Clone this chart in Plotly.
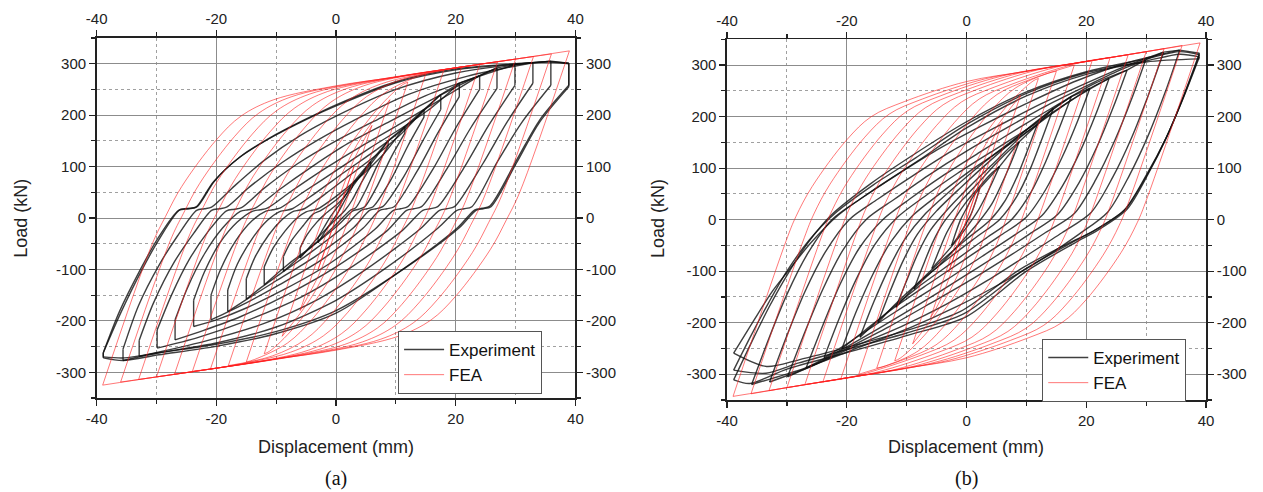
import plotly.graph_objects as go

# ---------------- tick labels ----------------
X_TICKS = [-40, -20, 0, 20, 40]
X_TICK_TEXT = ["-40", "-20", "0", "20", "40"]
Y_TICKS = [-300, -200, -100, 0, 100, 200, 300]
Y_TICK_TEXT = ["-300", "-200", "-100", "0", "100", "200", "300"]

# ---------------- FEA, panel (a): loading (up) and unloading (down) branches per cycle ----------------
FEA_A_UP_X = [
    [-3, 3],
    [-6, 2.3, 4.5, 6],
    [-9, -0.7, 1.5, 4.2, 9],
    [-12, -3.7, -1.5, 1.2, 7, 11.1, 12],
    [-15, -6.7, -4.5, -1.8, 4, 8.1, 13.6, 15],
    [-18, -9.7, -7.5, -4.8, 1, 5.1, 10.6, 18],
    [-21, -12.7, -10.5, -7.8, -2, 2.1, 7.6, 18, 21],
    [-24, -15.7, -13.5, -10.8, -5, -0.9, 4.6, 15, 24],
    [-27, -18.7, -16.5, -13.8, -8, -3.9, 1.6, 12, 20, 27],
    [-30, -21.7, -19.5, -16.8, -11, -6.9, -1.4, 9, 20, 30],
    [-33, -24.7, -22.5, -19.8, -14, -9.9, -4.4, 6, 20, 30, 33],
    [-36, -27.7, -25.5, -22.8, -17, -12.9, -7.4, 3, 10, 20, 30, 36],
    [-39, -30.7, -28.5, -25.8, -20, -15.9, -10.4, 0, 10, 20, 30, 39],
]
FEA_A_UP_Y = [
    [-100, 100],
    [-180, 95, 148, 180],
    [-230, 45, 98, 156, 230],
    [-264, 11, 64, 122, 213, 259, 264],
    [-280, -5, 48, 106, 197, 243, 275, 280],
    [-287, -12, 41, 99, 190, 236, 268, 287],
    [-294, -19, 34, 92, 183, 229, 261, 288, 294],
    [-298, -23, 30, 88, 179, 225, 257, 283, 298],
    [-304, -29, 24, 82, 173, 219, 251, 278, 292, 304],
    [-309, -34, 19, 77, 168, 214, 246, 272, 292, 309],
    [-314, -39, 14, 72, 163, 209, 241, 267, 292, 309, 314],
    [-319, -44, 9, 67, 158, 204, 236, 262, 274, 292, 309, 319],
    [-325, -50, 3, 61, 152, 198, 230, 257, 274, 292, 309, 325],
]
FEA_A_DN_X = [
    [3, -3],
    [6, -2.3, -4.5, -6],
    [9, 0.7, -1.5, -4.2, -9],
    [12, 3.7, 1.5, -1.2, -7, -11.1, -12],
    [15, 6.7, 4.5, 1.8, -4, -8.1, -13.6, -15],
    [18, 9.7, 7.5, 4.8, -1, -5.1, -10.6, -18],
    [21, 12.7, 10.5, 7.8, 2, -2.1, -7.6, -18, -21],
    [24, 15.7, 13.5, 10.8, 5, 0.9, -4.6, -15, -24],
    [27, 18.7, 16.5, 13.8, 8, 3.9, -1.6, -12, -20, -27],
    [30, 21.7, 19.5, 16.8, 11, 6.9, 1.4, -9, -20, -30],
    [33, 24.7, 22.5, 19.8, 14, 9.9, 4.4, -6, -20, -30, -33],
    [36, 27.7, 25.5, 22.8, 17, 12.9, 7.4, -3, -10, -20, -30, -36],
    [39, 30.7, 28.5, 25.8, 20, 15.9, 10.4, 0, -10, -20, -30, -39],
]
FEA_A_DN_Y = [
    [100, -100],
    [180, -95, -148, -180],
    [230, -45, -98, -156, -230],
    [264, -11, -64, -122, -213, -259, -264],
    [280, 5, -48, -106, -197, -243, -275, -280],
    [287, 12, -41, -99, -190, -236, -268, -287],
    [294, 19, -34, -92, -183, -229, -261, -288, -294],
    [298, 23, -30, -88, -179, -225, -257, -283, -298],
    [304, 29, -24, -82, -173, -219, -251, -278, -292, -304],
    [309, 34, -19, -77, -168, -214, -246, -272, -292, -309],
    [314, 39, -14, -72, -163, -209, -241, -267, -292, -309, -314],
    [319, 44, -9, -67, -158, -204, -236, -262, -274, -292, -309, -319],
    [325, 50, -3, -61, -152, -198, -230, -257, -274, -292, -309, -325],
]

# ---------------- FEA, panel (b) ----------------
FEA_B_UP_X = [
    [-3, 3],
    [-6, 2.9, 4.5, 6],
    [-9, -0.1, 1.5, 4.2, 9],
    [-12, -3.1, -1.5, 1.2, 7, 11.1, 12],
    [-15, -6.1, -4.5, -1.8, 4, 8.1, 13.6, 15],
    [-18, -9.1, -7.5, -4.8, 1, 5.1, 10.6, 18],
    [-21, -12.1, -10.5, -7.8, -2, 2.1, 7.6, 18, 21],
    [-24, -15.1, -13.5, -10.8, -5, -0.9, 4.6, 15, 24],
    [-27, -18.1, -16.5, -13.8, -8, -3.9, 1.6, 12, 20, 27],
    [-30, -21.1, -19.5, -16.8, -11, -6.9, -1.4, 9, 20, 30],
    [-33, -24.1, -22.5, -19.8, -14, -9.9, -4.4, 6, 20, 30, 33],
    [-36, -27.1, -25.5, -22.8, -17, -12.9, -7.4, 3, 10, 20, 30, 36],
    [-39, -30.1, -28.5, -25.8, -20, -15.9, -10.4, 0, 10, 20, 30, 39],
]
FEA_B_UP_Y = [
    [-102, 102],
    [-190, 113, 159, 190],
    [-241, 62, 108, 166, 241],
    [-274, 29, 75, 133, 224, 269, 274],
    [-288, 15, 61, 119, 210, 255, 284, 288],
    [-300, 3, 49, 107, 198, 243, 272, 300],
    [-309, -6, 40, 98, 189, 234, 263, 302, 309],
    [-315, -12, 34, 92, 183, 228, 257, 296, 315],
    [-320, -17, 29, 87, 178, 223, 252, 291, 307, 320],
    [-326, -23, 23, 81, 172, 217, 246, 285, 307, 326],
    [-332, -29, 17, 75, 166, 211, 240, 279, 307, 326, 332],
    [-338, -35, 11, 69, 160, 205, 234, 273, 288, 307, 326, 338],
    [-343, -40, 6, 64, 155, 200, 229, 268, 288, 307, 326, 343],
]
FEA_B_DN_X = [
    [3, -3],
    [6, -2.9, -4.5, -6],
    [9, 0.1, -1.5, -4.2, -9],
    [12, 3.1, 1.5, -1.2, -7, -11.1, -12],
    [15, 6.1, 4.5, 1.8, -4, -8.1, -13.6, -15],
    [18, 9.1, 7.5, 4.8, -1, -5.1, -10.6, -18],
    [21, 12.1, 10.5, 7.8, 2, -2.1, -7.6, -18, -21],
    [24, 15.1, 13.5, 10.8, 5, 0.9, -4.6, -15, -24],
    [27, 18.1, 16.5, 13.8, 8, 3.9, -1.6, -12, -20, -27],
    [30, 21.1, 19.5, 16.8, 11, 6.9, 1.4, -9, -20, -30],
    [33, 24.1, 22.5, 19.8, 14, 9.9, 4.4, -6, -20, -30, -33],
    [36, 27.1, 25.5, 22.8, 17, 12.9, 7.4, -3, -10, -20, -30, -36],
    [39, 30.1, 28.5, 25.8, 20, 15.9, 10.4, 0, -10, -20, -30, -39],
]
FEA_B_DN_Y = [
    [102, -102],
    [190, -113, -159, -190],
    [241, -62, -108, -166, -241],
    [274, -29, -75, -133, -224, -269, -274],
    [288, -15, -61, -119, -210, -255, -284, -288],
    [300, -3, -49, -107, -198, -243, -272, -300],
    [309, 6, -40, -98, -189, -234, -263, -302, -309],
    [315, 12, -34, -92, -183, -228, -257, -296, -315],
    [320, 17, -29, -87, -178, -223, -252, -291, -307, -320],
    [326, 23, -23, -81, -172, -217, -246, -285, -307, -326],
    [332, 29, -17, -75, -166, -211, -240, -279, -307, -326, -332],
    [338, 35, -11, -69, -160, -205, -234, -273, -288, -307, -326, -338],
    [343, 40, -6, -64, -155, -200, -229, -268, -288, -307, -326, -343],
]

# ---------------- Experiment, panel (a) ----------------
EXP_A_DN_X = [
    [2.8, 2.8, 1.5, 0.3, -1.2, -3.0],
    [5.8, 5.8, 4.2, 2.7, 1.5, -0.5, -3.0, -6.0],
    [8.7, 8.7, 6.8, 5.0, 3.3, 2.4, 0.2, -3.0, -6.0, -8.8],
    [11.5, 11.5, 9.2, 7.0, 4.8, 3.8, 2.8, 0.5, -4.0, -8.0, -12.0],
    [14.7, 14.7, 12.0, 9.2, 6.2, 5.2, 4.2, 1.5, -4.0, -9.5, -12.5, -15.0],
    [17.5, 17.5, 14.5, 11.3, 7.8, 6.7, 5.6, 3.0, -3.5, -10.0, -14.5, -18.1],
    [20.6, 20.6, 17.0, 13.5, 9.7, 8.5, 7.3, 4.5, -2.5, -9.5, -15.0, -18.5, -20.9],
    [24.0, 24.0, 20.0, 16.2, 12.0, 10.8, 9.6, 6.5, -1.0, -8.5, -15.0, -20.0, -23.8],
    [26.9, 26.9, 22.5, 18.5, 14.3, 13.0, 11.8, 8.5, 0.0, -8.0, -16.0, -22.0, -26.9],
    [29.9, 29.9, 25.5, 21.5, 17.0, 15.7, 14.5, 11.0, 2.0, -6.0, -15.0, -23.0, -29.9],
    [32.9, 32.9, 28.5, 24.5, 19.8, 18.5, 17.3, 14.0, 5.0, -3.0, -12.0, -22.0, -32.9],
    [35.9, 35.9, 31.0, 27.0, 22.7, 21.4, 20.2, 17.0, 8.0, 0.0, -10.0, -20.0, -30.0, -35.6],
    [38.9, 38.9, 34.0, 30.2, 25.7, 24.4, 23.2, 20.3, 11.5, 0.0, -10.4, -20.3, -29.6, -35.6, -38.9],
    [38.9, 38.9, 34.0, 30.2, 25.9, 24.6, 23.4, 20.5, 11.7, 0.0, -10.4, -20.3, -29.6, -35.4, -38.9],
]
EXP_A_DN_Y = [
    [68, 62, 35, 10, -15, -48],
    [110, 100, 68, 35, 15, -8, -38, -78],
    [150, 140, 100, 55, 20, 15, -10, -45, -75, -104],
    [178, 165, 118, 65, 22, 17, 14, -12, -55, -90, -130],
    [211, 196, 140, 75, 22, 18, 15, -15, -65, -110, -135, -158],
    [240, 211, 150, 80, 22, 18, 15, -18, -75, -122, -155, -182],
    [262, 236, 165, 90, 22, 18, 15, -20, -82, -130, -165, -185, -198],
    [277, 250, 175, 95, 22, 18, 15, -22, -88, -138, -175, -198, -211],
    [292, 252, 175, 95, 22, 18, 15, -25, -95, -148, -192, -218, -237],
    [298, 258, 180, 100, 22, 18, 15, -25, -100, -155, -200, -232, -253],
    [302, 262, 185, 105, 22, 18, 15, -22, -100, -158, -205, -240, -269],
    [305, 258, 185, 110, 22, 18, 15, -20, -100, -160, -212, -243, -263, -277],
    [301, 258, 190, 113, 23, 19, 16, -19, -97, -185, -226, -250, -266, -277, -272],
    [301, 255, 186, 108, 22, 18, 15, -20, -96, -180, -222, -246, -262, -272, -270],
]
EXP_A_UP_X = [
    [-3.0, -2.0, -0.8, 0.8, 2.8],
    [-6.0, -4.8, -3.2, -1.8, 0.5, 3.0, 5.8],
    [-8.8, -7.5, -5.5, -3.8, -2.5, 0.0, 3.0, 6.0, 8.7],
    [-12.0, -10.5, -8.5, -6.5, -5.0, -4.0, -3.0, 0.0, 4.0, 8.0, 11.5],
    [-15.0, -13.5, -11.2, -9.0, -7.3, -6.3, -5.3, -2.0, 2.5, 7.0, 11.0, 14.7],
    [-18.1, -16.5, -14.0, -11.5, -9.5, -8.4, -7.3, -3.5, 1.5, 7.0, 12.0, 17.5],
    [-20.9, -19.3, -16.8, -14.0, -11.8, -10.6, -9.4, -5.5, 0.0, 5.5, 11.0, 16.0, 20.6],
    [-23.8, -22.0, -19.5, -16.5, -14.0, -12.7, -11.5, -7.5, -2.0, 4.0, 10.0, 16.0, 20.5, 24.0],
    [-26.9, -24.8, -22.0, -19.0, -16.0, -14.7, -13.5, -9.5, -4.0, 2.0, 9.0, 16.0, 22.0, 26.9],
    [-29.9, -27.5, -24.5, -21.3, -18.3, -17.0, -15.8, -12.0, -6.5, 0.0, 7.0, 15.0, 23.0, 29.9],
    [-32.9, -30.5, -27.0, -23.8, -20.8, -19.5, -18.3, -14.5, -9.0, -3.0, 3.0, 12.0, 22.0, 32.9],
    [-35.6, -33.0, -29.5, -26.5, -23.3, -22.0, -20.8, -17.0, -12.0, -6.0, 0.0, 10.0, 20.0, 30.0, 35.9],
    [-38.9, -36.0, -32.4, -29.6, -26.1, -24.4, -23.2, -20.3, -15.9, -10.4, -4.9, 0.0, 10.0, 20.0, 30.0, 35.6, 38.9],
    [-38.9, -36.2, -32.6, -29.8, -26.3, -24.6, -23.4, -20.5, -16.1, -10.6, -5.1, 0.0, 10.0, 20.0, 30.0, 35.6, 38.9],
]
EXP_A_UP_Y = [
    [-38, -18, 5, 30, 68],
    [-58, -32, -8, 8, 30, 65, 110],
    [-75, -45, -15, 8, 15, 35, 68, 108, 150],
    [-95, -58, -25, 0, 12, 15, 18, 42, 80, 125, 178],
    [-118, -75, -32, -3, 12, 15, 18, 45, 85, 125, 165, 211],
    [-140, -90, -40, -5, 12, 15, 18, 48, 90, 135, 180, 240],
    [-150, -100, -45, -5, 13, 16, 19, 50, 92, 135, 175, 215, 262],
    [-160, -105, -50, -8, 13, 16, 19, 52, 95, 138, 178, 220, 252, 277],
    [-198, -135, -70, -20, 13, 16, 19, 55, 100, 145, 188, 230, 266, 292],
    [-218, -150, -80, -25, 14, 17, 20, 58, 105, 150, 192, 238, 272, 298],
    [-238, -165, -85, -30, 15, 18, 21, 60, 108, 152, 190, 240, 276, 302],
    [-255, -170, -90, -35, 15, 18, 21, 62, 112, 160, 198, 250, 282, 299, 305],
    [-262, -185, -100, -42, 16, 19, 22, 72, 120, 160, 193, 220, 265, 290, 300, 304, 301],
    [-262, -182, -98, -40, 15, 18, 21, 70, 118, 158, 191, 218, 263, 288, 299, 303, 300],
]

# ---------------- Experiment, panel (b) ----------------
EXP_B_DN_X = [
    [2.2, 1.6, 0.8, -0.3, -1.4, -2.5],
    [5.5, 4.4, 3.2, 1.8, 0.0, -2.0, -4.0, -5.8],
    [8.8, 7.4, 5.9, 4.2, 2.0, -1.0, -4.0, -6.8, -8.8],
    [11.8, 10.2, 8.5, 6.5, 4.0, 0.0, -4.0, -8.0, -11.8],
    [14.5, 12.7, 10.7, 8.4, 5.5, 1.5, -3.0, -8.0, -12.0, -14.8],
    [17.5, 15.5, 13.2, 10.6, 7.5, 3.0, -2.0, -8.0, -13.5, -17.8],
    [20.6, 18.5, 16.0, 13.2, 10.0, 5.5, 0.0, -6.0, -12.0, -17.0, -20.8],
    [23.8, 21.6, 19.0, 16.0, 12.6, 8.0, 2.5, -3.5, -10.0, -16.0, -20.5, -23.8],
    [26.8, 24.5, 21.8, 18.8, 15.2, 10.5, 5.0, -1.5, -8.0, -14.5, -20.5, -26.8],
    [29.9, 27.5, 24.7, 21.6, 18.0, 13.2, 7.5, 1.0, -6.0, -13.0, -20.0, -25.5, -29.9],
    [32.9, 30.4, 27.6, 24.4, 20.8, 16.0, 10.0, 3.5, -3.5, -11.0, -18.5, -26.0, -32.9],
    [35.6, 33.2, 30.4, 27.2, 23.6, 18.8, 12.8, 6.0, -1.5, -9.5, -18.0, -27.0, -35.9],
    [38.9, 36.4, 33.6, 30.4, 26.8, 22.0, 18.1, 10.0, 0.0, -10.0, -20.0, -30.0, -36.2, -38.9],
    [38.9, 36.3, 33.4, 30.2, 26.5, 21.5, 17.5, 9.5, -0.5, -10.0, -20.0, -28.0, -33.5, -38.9],
    [38.9, 36.2, 33.3, 30.0, 26.3, 21.2, 17.0, 9.0, -1.0, -10.0, -20.0, -28.0, -33.4, -38.9],
]
EXP_B_DN_Y = [
    [61, 38, 12, -12, -33, -50],
    [103, 75, 45, 15, -15, -45, -72, -95],
    [151, 110, 70, 30, -5, -45, -82, -112, -135],
    [184, 135, 85, 38, 0, -38, -78, -122, -170],
    [216, 160, 100, 45, 0, -35, -75, -122, -165, -200],
    [239, 178, 112, 50, 0, -38, -80, -130, -182, -228],
    [255, 190, 122, 58, 5, -32, -75, -122, -170, -215, -250],
    [274, 205, 133, 65, 8, -30, -72, -118, -165, -210, -245, -268],
    [290, 218, 142, 72, 10, -28, -70, -118, -165, -210, -250, -288],
    [310, 232, 152, 78, 12, -25, -68, -115, -162, -208, -250, -282, -305],
    [325, 243, 160, 82, 14, -25, -70, -118, -165, -208, -245, -285, -315],
    [329, 248, 165, 86, 15, -28, -75, -122, -168, -210, -248, -288, -320],
    [323, 245, 165, 90, 20, -20, -45, -100, -188, -225, -258, -290, -318, -311],
    [320, 240, 160, 88, 20, -20, -45, -98, -183, -220, -252, -278, -298, -292],
    [316, 236, 158, 86, 18, -22, -46, -96, -178, -215, -248, -272, -285, -259],
]
EXP_B_UP_X = [
    [-2.5, -1.8, -1.0, 0.0, 1.1, 2.2],
    [-5.8, -4.6, -3.3, -1.8, 0.0, 2.0, 4.0, 5.5],
    [-8.8, -7.3, -5.7, -3.8, -1.0, 2.0, 5.0, 7.3, 8.8],
    [-11.8, -10.0, -8.1, -6.0, -3.0, 1.0, 5.0, 9.0, 11.8],
    [-14.8, -12.8, -10.6, -8.2, -5.0, -1.0, 4.0, 9.0, 12.5, 14.5],
    [-17.8, -15.5, -13.0, -10.3, -7.0, -2.5, 3.0, 9.0, 14.0, 17.5],
    [-20.8, -18.3, -15.6, -12.6, -9.0, -4.5, 1.0, 7.0, 13.0, 17.5, 20.6],
    [-23.8, -21.2, -18.4, -15.3, -11.5, -7.0, -1.5, 5.0, 11.0, 17.0, 21.0, 23.8],
    [-26.8, -24.0, -21.1, -17.9, -14.0, -9.5, -4.0, 2.5, 9.0, 15.5, 21.0, 26.8],
    [-29.9, -27.0, -24.0, -20.7, -16.8, -12.0, -6.5, 0.0, 7.0, 14.0, 21.0, 26.0, 29.9],
    [-32.9, -30.0, -27.0, -23.6, -19.6, -14.8, -9.0, -2.5, 5.0, 12.5, 20.0, 27.0, 32.9],
    [-35.9, -33.0, -30.0, -26.5, -22.5, -17.5, -11.5, -5.0, 2.5, 10.5, 18.5, 27.0, 35.6],
    [-38.9, -36.0, -33.0, -30.0, -26.5, -22.5, -16.0, -9.0, 0.0, 10.0, 20.0, 30.0, 35.6, 38.9],
    [-38.9, -36.0, -33.0, -30.0, -26.3, -22.0, -15.5, -8.5, 0.0, 10.0, 20.0, 30.0, 35.6, 38.9],
    [-38.9, -35.5, -32.5, -30.1, -26.0, -21.5, -15.0, -8.0, 0.0, 10.0, 20.0, 30.0, 38.9],
]
EXP_B_UP_Y = [
    [-50, -25, 0, 22, 45, 61],
    [-95, -60, -25, 5, 35, 62, 88, 103],
    [-135, -90, -45, -5, 35, 72, 110, 136, 151],
    [-170, -118, -65, -20, 22, 70, 115, 160, 184],
    [-200, -140, -80, -28, 17, 62, 115, 165, 198, 216],
    [-228, -160, -95, -38, 10, 58, 112, 165, 210, 239],
    [-250, -175, -105, -42, 8, 50, 98, 145, 195, 232, 255],
    [-268, -190, -115, -48, 5, 45, 90, 138, 182, 228, 256, 274],
    [-288, -205, -125, -55, 0, 40, 85, 133, 180, 225, 262, 290],
    [-305, -218, -135, -60, 0, 40, 85, 133, 180, 225, 265, 292, 310],
    [-315, -225, -140, -63, 0, 40, 85, 133, 180, 225, 265, 300, 325],
    [-320, -230, -145, -65, 0, 42, 88, 135, 182, 228, 270, 305, 329],
    [-311, -240, -170, -108, -45, 10, 70, 125, 190, 248, 287, 312, 326, 320],
    [-292, -225, -160, -100, -40, 12, 68, 120, 185, 245, 285, 308, 321, 316],
    [-259, -195, -140, -104, -45, 8, 62, 115, 178, 240, 282, 306, 312],
]

FONT = "Liberation Sans, Arial, sans-serif"
EXP_COLOR = "rgba(15,15,15,0.80)"
FEA_COLOR = "rgba(255,30,30,0.60)"


def join(segments):
    xs, ys = [], []
    for sx, sy in segments:
        xs += list(sx) + [None]
        ys += list(sy) + [None]
    return xs, ys


def exp_segments(dnx, dny, upx, upy, has_drop):
    segs = []
    n = len(dnx)
    for i in range(n):
        dx, dy, ux, uy = dnx[i], dny[i], upx[i], upy[i]
        if has_drop:
            segs.append((dx[:2], dy[:2]))
            segs.append((dx[1:], dy[1:]))
        else:
            segs.append((dx, dy))
        segs.append(([dx[-1], ux[0]], [dy[-1], uy[0]]))
        segs.append((ux, uy))
        if i + 1 < n:
            segs.append(([ux[-1], dnx[i + 1][0]], [uy[-1], dny[i + 1][0]]))
    return segs


def fea_segments(dnx, dny, upx, upy):
    segs = []
    for i in range(len(dnx)):
        segs.append((dnx[i], dny[i]))
        segs.append((upx[i], upy[i]))
    return segs


fig = go.Figure()

panels = [
    dict(xa="x", ya="y", xt="x3", yt="y3", legend="legend",
         exp=exp_segments(EXP_A_DN_X, EXP_A_DN_Y, EXP_A_UP_X, EXP_A_UP_Y, True),
         fea=fea_segments(FEA_A_DN_X, FEA_A_DN_Y, FEA_A_UP_X, FEA_A_UP_Y)),
    dict(xa="x2", ya="y2", xt="x4", yt="y4", legend="legend2",
         exp=exp_segments(EXP_B_DN_X, EXP_B_DN_Y, EXP_B_UP_X, EXP_B_UP_Y, False),
         fea=fea_segments(FEA_B_DN_X, FEA_B_DN_Y, FEA_B_UP_X, FEA_B_UP_Y)),
]

for p in panels:
    ex, ey = join(p["exp"])
    fx, fy = join(p["fea"])
    fig.add_trace(go.Scatter(x=ex, y=ey, mode="lines", name="Experiment",
                             line=dict(color=EXP_COLOR, width=1.4, shape="spline", smoothing=0.8),
                             connectgaps=False, xaxis=p["xa"], yaxis=p["ya"],
                             legend=p["legend"], hoverinfo="skip"))
    fig.add_trace(go.Scatter(x=fx, y=fy, mode="lines", name="FEA",
                             line=dict(color=FEA_COLOR, width=1.0, shape="spline", smoothing=1.0),
                             connectgaps=False, xaxis=p["xa"], yaxis=p["ya"],
                             legend=p["legend"], hoverinfo="skip"))
    # dummy trace so the mirrored top/right axes are drawn with labels
    fig.add_trace(go.Scatter(x=[None], y=[None], mode="lines", showlegend=False,
                             xaxis=p["xt"], yaxis=p["yt"], hoverinfo="skip"))

tickfont = dict(family=FONT, size=15, color="#222")
AX_COL = "#222"
GRID_MAJ = "#8c8c8c"
GRID_MIN = "#a0a0a0"


def x_main(domain, anchor):
    return dict(domain=domain, anchor=anchor, range=[-40, 40], tickmode="array",
                tickvals=X_TICKS, ticktext=X_TICK_TEXT, ticks="outside", ticklen=6,
                tickwidth=1.2, tickcolor=AX_COL, showline=True, linecolor=AX_COL,
                linewidth=1.6, showgrid=True, gridcolor=GRID_MAJ, gridwidth=1,
                zeroline=False, tickfont=tickfont, fixedrange=True,
                minor=dict(tickmode="linear", tick0=0, dtick=10, ticks="outside",
                           ticklen=4, tickcolor=AX_COL, showgrid=True,
                           gridcolor=GRID_MIN, griddash="dot", gridwidth=1))


def y_main(domain, anchor):
    return dict(domain=domain, anchor=anchor, range=[-350, 350], tickmode="array",
                tickvals=Y_TICKS, ticktext=Y_TICK_TEXT, ticks="outside", ticklen=6,
                tickwidth=1.2, tickcolor=AX_COL, showline=True, linecolor=AX_COL,
                linewidth=1.6, showgrid=True, gridcolor=GRID_MAJ, gridwidth=1,
                zeroline=False, tickfont=tickfont, fixedrange=True,
                minor=dict(tickmode="linear", tick0=0, dtick=50, ticks="outside",
                           ticklen=4, tickcolor=AX_COL, showgrid=True,
                           gridcolor=GRID_MIN, griddash="dot", gridwidth=1))


def x_top(over, anchor):
    return dict(overlaying=over, anchor=anchor, side="top", range=[-40, 40],
                tickmode="array", tickvals=X_TICKS, ticktext=X_TICK_TEXT,
                ticks="outside", ticklen=6, tickwidth=1.2, tickcolor=AX_COL,
                showline=True, linecolor=AX_COL, linewidth=1.6, showgrid=False,
                zeroline=False, tickfont=tickfont, fixedrange=True,
                minor=dict(tickmode="linear", tick0=0, dtick=10, ticks="outside",
                           ticklen=4, tickcolor=AX_COL, showgrid=False))


def y_right(over, anchor):
    return dict(overlaying=over, anchor=anchor, side="right", range=[-350, 350],
                tickmode="array", tickvals=Y_TICKS, ticktext=Y_TICK_TEXT,
                ticks="outside", ticklen=6, tickwidth=1.2, tickcolor=AX_COL,
                showline=True, linecolor=AX_COL, linewidth=1.6, showgrid=False,
                zeroline=False, tickfont=tickfont, fixedrange=True,
                minor=dict(tickmode="linear", tick0=0, dtick=50, ticks="outside",
                           ticklen=4, tickcolor=AX_COL, showgrid=False))


W, H = 1263, 492
XA = [87 / W, 573 / W]
YA = [1 - 398 / H, 1 - 38 / H]
XB = [727 / W, 1213.3 / W]
YB = [1 - 400 / H, 1 - 39.3 / H]

legend_style = dict(xanchor="left", yanchor="top", bgcolor="white",
                    bordercolor="#555", borderwidth=1,
                    font=dict(family=FONT, size=17, color="#111"),
                    tracegroupgap=0, itemwidth=40)

title_font = dict(family=FONT, size=18, color="#222")
cap_font = dict(family="Liberation Serif, Times New Roman, serif", size=20, color="#111")

annotations = []
for cx, ly_x, ly_y, cap in [(330, 10, 218, "(a)"), (970, 657, 219, "(b)")]:
    annotations.append(dict(text="Displacement (mm)", x=cx / W, y=1 - 447 / H,
                            xref="paper", yref="paper", showarrow=False,
                            xanchor="center", yanchor="middle", font=title_font))
    annotations.append(dict(text=cap, x=cx / W, y=1 - 478 / H, xref="paper",
                            yref="paper", showarrow=False, xanchor="center",
                            yanchor="middle", font=cap_font))
    annotations.append(dict(text="Load (kN)", x=ly_x / W, y=1 - ly_y / H,
                            xref="paper", yref="paper", showarrow=False,
                            xanchor="center", yanchor="middle", textangle=-90,
                            font=title_font))

fig.update_layout(
    width=W, height=H, margin=dict(l=0, r=0, t=0, b=0),
    paper_bgcolor="white", plot_bgcolor="white", hovermode=False,
    xaxis=x_main(XA, "y"), yaxis=y_main(YA, "x"),
    xaxis2=x_main(XB, "y2"), yaxis2=y_main(YB, "x2"),
    xaxis3=x_top("x", "y"), yaxis3=y_right("y", "x"),
    xaxis4=x_top("x2", "y2"), yaxis4=y_right("y2", "x2"),
    legend=dict(x=393 / W, y=1 - 331 / H, **legend_style),
    legend2=dict(x=1047 / W, y=1 - 339 / H, **legend_style),
    annotations=annotations,
    showlegend=True,
)

fig.write_html("out.html", config={"displayModeBar": False, "staticPlot": True},
               post_script="document.body.style.margin='0';document.body.style.overflow='hidden';")
